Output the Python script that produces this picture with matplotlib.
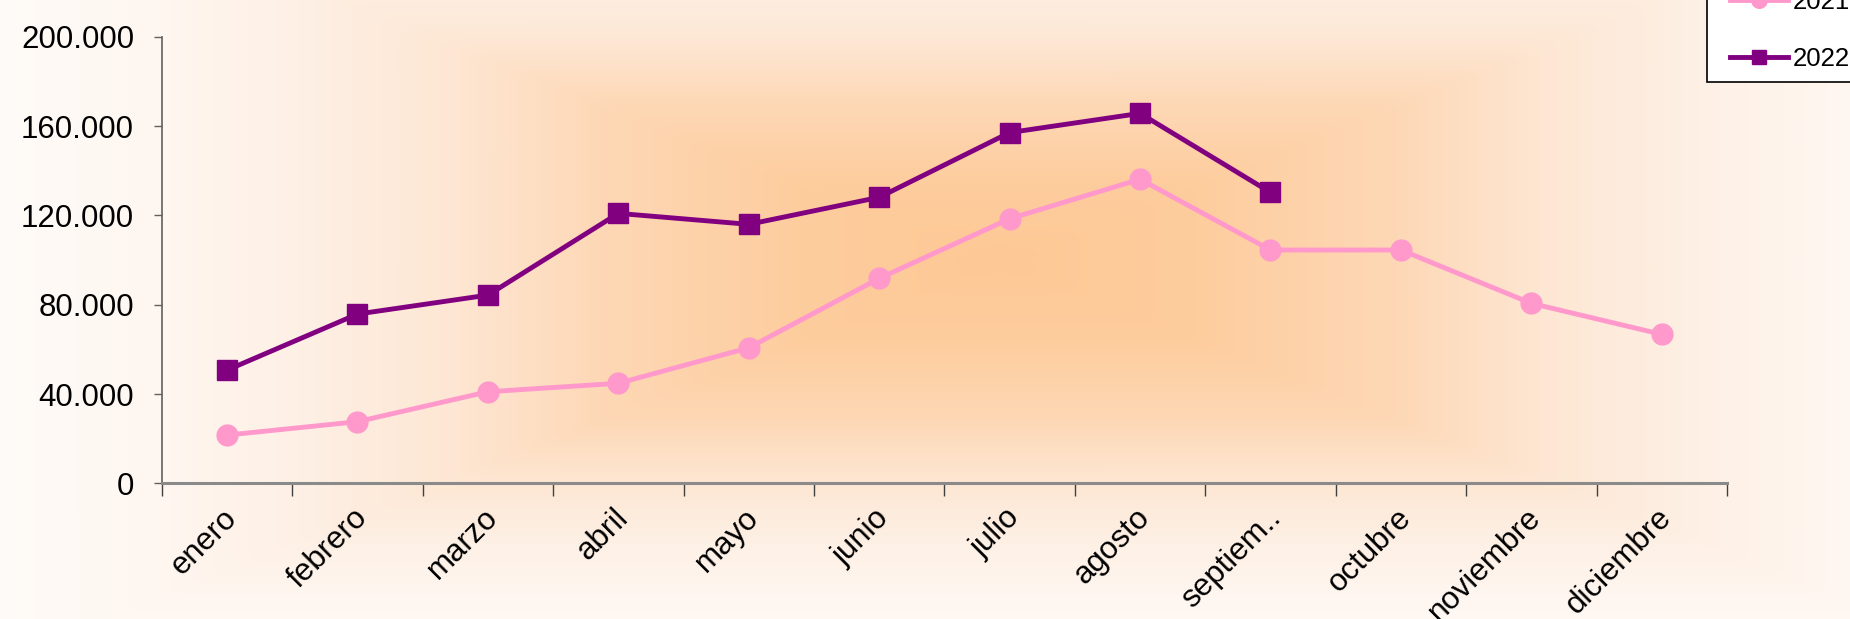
import numpy as np
import matplotlib
matplotlib.use("Agg")
import matplotlib.pyplot as plt
from matplotlib.patches import Rectangle
from matplotlib.transforms import ScaledTranslation

# ---- data ----
months = ["enero", "febrero", "marzo", "abril", "mayo", "junio", "julio",
          "agosto", "septiem..", "octubre", "noviembre", "diciembre"]
values_2021 = [21600, 27600, 41000, 44800, 60700, 91800, 118500, 136200,
               104500, 104500, 80600, 66700]
values_2022 = [50700, 75800, 84300, 120900, 116000, 128100, 157100, 165700,
               130300]
series_labels = ["2021", "2022"]
y_ticks = [0, 40000, 80000, 120000, 160000, 200000]
y_tick_labels = ["0", "40.000", "80.000", "120.000", "160.000", "200.000"]

plt.rcParams['font.family'] = ['Liberation Sans', 'DejaVu Sans']

W, H = 1850, 619
DPI = 100
fig = plt.figure(figsize=(W / DPI, H / DPI), dpi=DPI)

# ---- background gradient (rectangular, from center) ----
yy, xx = np.mgrid[0:H, 0:W].astype(float)
cx, cy = 998.0, 262.0
dn = np.maximum(np.abs(xx - cx) / 1000.0, np.abs(yy - cy) / 400.0)
stops = [0.0, 0.2, 0.4, 0.55, 0.7, 0.85, 1.0]
cols = [(253, 200, 149), (253, 205, 158), (253, 216, 182), (253, 231, 212),
        (254, 240, 229), (254, 247, 241), (255, 251, 248)]
cols = np.array(cols) / 255.0
img = np.zeros((H, W, 3))
for c in range(3):
    img[..., c] = np.interp(dn, stops, cols[:, c])
# light blur
k = 9
pad = np.pad(img, ((k, k), (k, k), (0, 0)), mode='edge')
cs = pad.cumsum(axis=0)
img = (cs[2 * k:, :, :] - np.vstack([np.zeros((1, pad.shape[1], 3)), cs[:-2 * k - 1]])) / (2 * k + 1)
cs = img.cumsum(axis=1)
img = (cs[:, 2 * k:, :] - np.concatenate([np.zeros((img.shape[0], 1, 3)), cs[:, :-2 * k - 1]], axis=1)) / (2 * k + 1)
bg = fig.add_axes([0, 0, 1, 1], zorder=0)
bg.imshow(img, aspect='auto', extent=[0, 1, 0, 1], interpolation='bilinear')
bg.set_axis_off()

# ---- main axes ----
left, right = 161.8 / W, 1727.0 / W
bottom, top = 1 - 483.3 / H, 1 - 36.8 / H
ax = fig.add_axes([left, bottom, right - left, top - bottom], zorder=1)
ax.patch.set_alpha(0)

x21 = np.arange(len(values_2021)) + 0.5
x22 = np.arange(len(values_2022)) + 0.5
pink = "#FF99CC"
purple = "#800080"
l1, = ax.plot(x21, values_2021, color=pink, lw=3.5, marker='o', ms=15,
              mec=pink, mfc=pink, label=series_labels[0], zorder=3,
              solid_joinstyle='round')
l2, = ax.plot(x22, values_2022, color=purple, lw=3.5, marker='s', ms=14.2,
              mec=purple, mfc=purple, label=series_labels[1], zorder=4,
              solid_joinstyle='round')

ax.set_xlim(0, len(months))
ax.set_ylim(0, 200000)
for s in ['top', 'right']:
    ax.spines[s].set_visible(False)
ax.spines['left'].set_color('#606060')
ax.spines['left'].set_linewidth(1.2)
ax.spines['bottom'].set_color('#8a8a8a')
ax.spines['bottom'].set_linewidth(2.2)

ax.set_yticks(y_ticks)
ax.set_yticklabels(y_tick_labels, fontsize=22.5)
ax.tick_params(axis='y', direction='out', length=6, width=1, color='#606060',
               pad=14)

ax.set_xticks(np.arange(len(months) + 1))
ax.set_xticklabels([])
ax.tick_params(axis='x', which='major', direction='out', length=9, width=1,
               color='#404040')
ax.set_xticks(np.arange(len(months)) + 0.5, minor=True)
ax.set_xticklabels(months, minor=True, fontsize=22.5, rotation=45,
                   ha='right', va='top', rotation_mode='anchor')
ax.tick_params(axis='x', which='minor', length=0, pad=14)
shift = ScaledTranslation(-5 / DPI, 0, fig.dpi_scale_trans)
for lab in ax.get_xticklabels(minor=True):
    lab.set_transform(lab.get_transform() + shift)

# ---- legend (partly outside the figure, as in the reference) ----
frame = Rectangle((1706.7 / W, 1 - 81.7 / H), 0.2, 0.3,
                  transform=fig.transFigure, facecolor='white',
                  edgecolor='black', linewidth=1.2, zorder=5)
fig.add_artist(frame)
leg = fig.legend(handles=[l1, l2], loc='center left',
                 bbox_to_anchor=(1730 / W, 1 - 30.5 / H),
                 fontsize=18.5, frameon=False,
                 borderaxespad=0, borderpad=0, labelspacing=1.28,
                 handlelength=2.25, handletextpad=0.2, markerscale=0.75)
leg.set_zorder(6)

fig.savefig("out.png", dpi=DPI)
